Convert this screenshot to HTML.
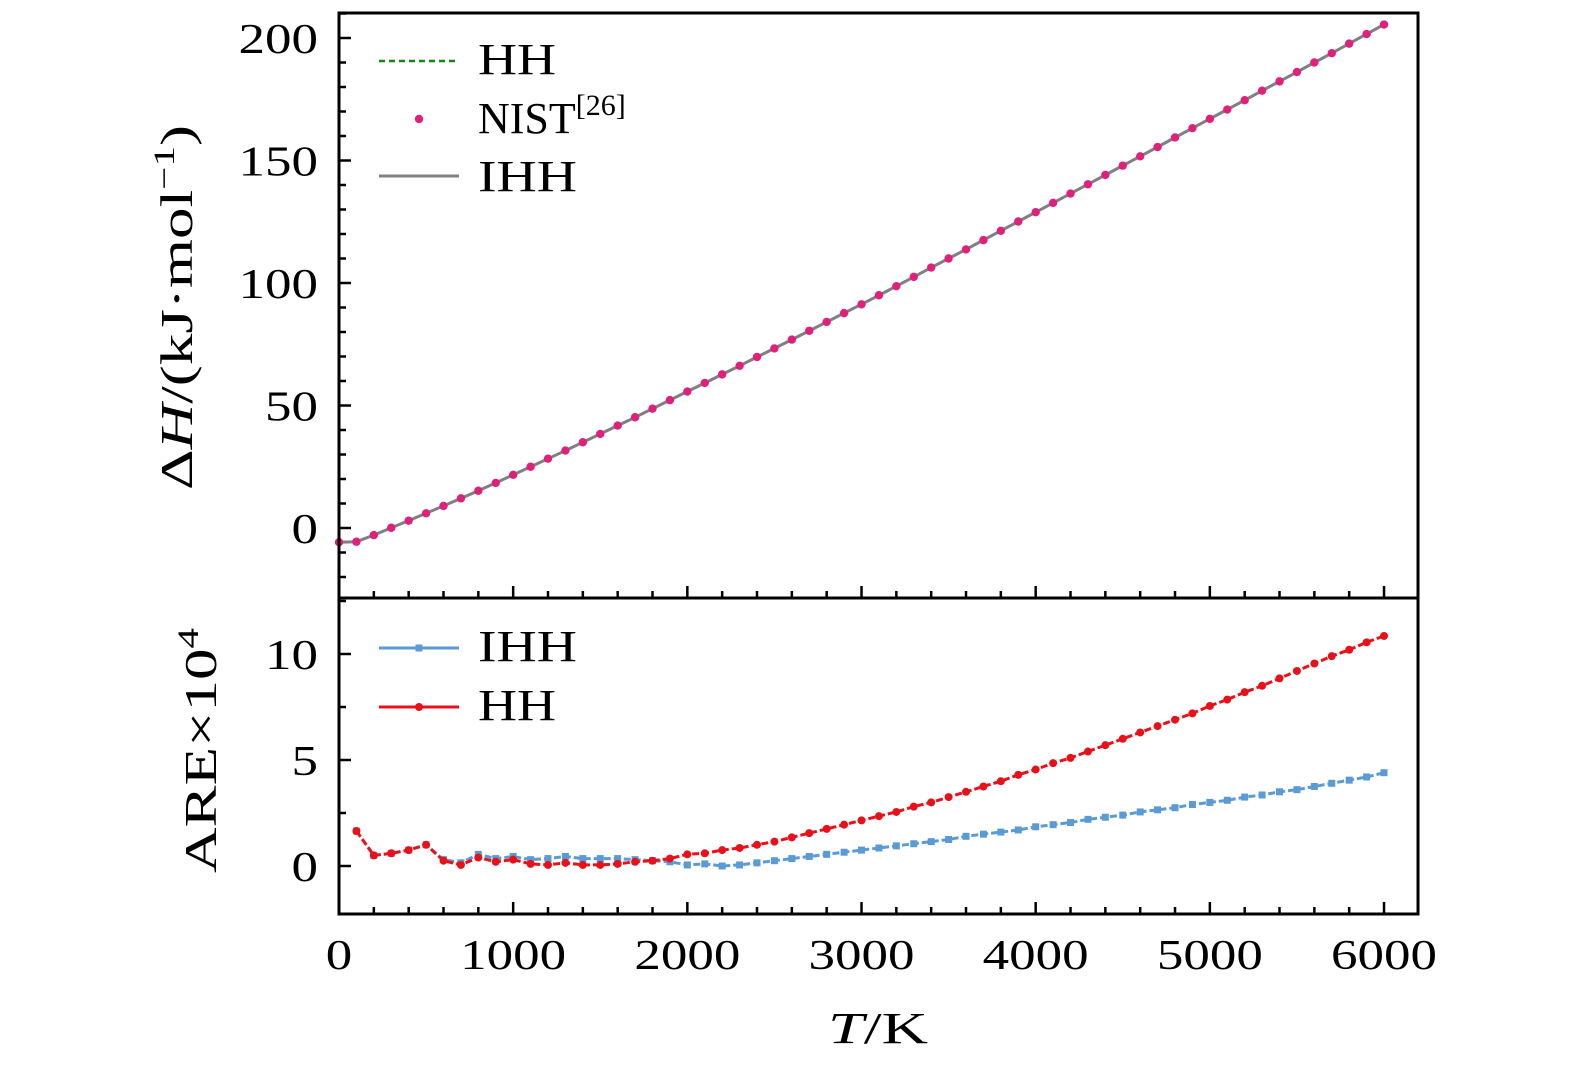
<!DOCTYPE html>
<html><head><meta charset="utf-8"><style>
html,body{margin:0;padding:0;background:#fff;}
svg{display:block;font-family:"Liberation Serif",serif;}
</style></head><body>
<svg id="chart" width="1575" height="1073" viewBox="0 0 1575 1073" xmlns="http://www.w3.org/2000/svg"></svg>
<script>
const temps = [];
for (let t = 0; t <= 6000; t += 100) temps.push(t);
const nistValues = [-5.8,-5.6,-2.9,0.1,3.0,6.0,9.0,12.1,15.2,18.4,21.7,25.0,28.3,31.6,35.0,38.4,41.8,45.2,48.7,52.2,55.7,59.2,62.7,66.2,69.8,73.3,76.9,80.5,84.1,87.7,91.3,95.0,98.7,102.5,106.3,110.0,113.7,117.5,121.3,125.1,128.9,132.7,136.5,140.3,144.1,147.9,151.7,155.5,159.4,163.2,167.0,170.8,174.6,178.5,182.3,186.1,190.0,193.8,197.7,201.6,205.5];
const areTemps = temps.slice(1);
const areHH = [1.65,0.5,0.6,0.75,1.0,0.25,0.05,0.4,0.2,0.3,0.1,0.05,0.15,0.05,0.05,0.1,0.2,0.25,0.35,0.55,0.6,0.75,0.85,1.0,1.15,1.35,1.55,1.75,1.95,2.15,2.35,2.55,2.8,3.0,3.25,3.5,3.75,4.0,4.3,4.55,4.85,5.1,5.4,5.7,6.0,6.3,6.6,6.9,7.2,7.55,7.85,8.2,8.5,8.85,9.2,9.55,9.9,10.2,10.55,10.85];
const areIHH = [1.65,0.5,0.6,0.75,1.0,0.3,0.15,0.55,0.35,0.45,0.3,0.35,0.45,0.35,0.35,0.35,0.3,0.25,0.2,0.05,0.1,0.0,0.05,0.15,0.25,0.35,0.45,0.55,0.65,0.75,0.85,0.95,1.05,1.15,1.25,1.4,1.5,1.6,1.7,1.85,1.95,2.05,2.2,2.3,2.4,2.55,2.65,2.75,2.9,3.0,3.1,3.25,3.35,3.5,3.6,3.75,3.9,4.05,4.2,4.4];
const xTicks = [0,1000,2000,3000,4000,5000,6000];
const topYTicks = [0,50,100,150,200];
const botYTicks = [0,5,10];

const svg = document.getElementById('chart');
const NS = 'http://www.w3.org/2000/svg';
function mk(tag, attrs, parent){const e=document.createElementNS(NS,tag);for(const k in attrs)e.setAttribute(k,attrs[k]);(parent||svg).appendChild(e);return e;}
const L=339,R=1418,T1=13,B1=598,B2=914;
const X = t => L + t*0.17417;
const Y1 = v => 528 - v*2.45;
const Y2 = v => 866 - v*21.2;

let p='';temps.forEach((t,i)=>{p+=(i?'L':'M')+X(t).toFixed(1)+' '+Y1(nistValues[i]).toFixed(1);});
let e=mk('path',{d:p,fill:'none',stroke:'#118811','stroke-width':2.5,'stroke-dasharray':'6 4'});

e=mk('path',{d:p,fill:'none',stroke:'#808080','stroke-width':3});

temps.forEach((t,i)=>{const c=mk('circle',{cx:X(t),cy:Y1(nistValues[i]),r:4.2,fill:'#e0207a'});
});
function series(vals,color,marker,name){
 let d='';areTemps.forEach((t,i)=>{d+=(i?'L':'M')+X(t).toFixed(1)+' '+Y2(vals[i]).toFixed(1);});
 const l=mk('path',{d:d,fill:'none',stroke:color,'stroke-width':3,'stroke-dasharray':'7 3'});
 
 areTemps.forEach((t,i)=>{let m;
  if(marker==='sq')m=mk('rect',{x:X(t)-3.5,y:Y2(vals[i])-3.5,width:7,height:7,fill:color});
  else m=mk('circle',{cx:X(t),cy:Y2(vals[i]),r:4,fill:color});
  });
}
series(areIHH,'#5b9bd5','sq','ihh-are');
series(areHH,'#e8111a','ci','hh-are');

e=mk('rect',{x:L,y:T1,width:R-L,height:B2-T1,fill:'none',stroke:'#000','stroke-width':3});

e=mk('line',{x1:L,x2:R,y1:B1,y2:B1,stroke:'#000','stroke-width':3});

for(let t=0;t<=6100;t+=200){const maj=t%1000===0,len=maj?12:7;
 for(const yb of [B1,B2]){mk('line',{x1:X(t),x2:X(t),y1:yb,y2:yb-len,stroke:'#000','stroke-width':2.5});}}
xTicks.forEach(t=>{const s=String(t);const tx=mk('text',{x:X(t),y:969,'font-size':42,'text-anchor':'middle',textLength:26.5*s.length,lengthAdjust:'spacingAndGlyphs'});tx.textContent=s;
 });
for(let v=-20;v<=210;v+=10){const maj=v%50===0,len=maj?12:7;const y=Y1(v);if(y<T1||y>B1)continue;
 mk('line',{x1:L,x2:L+len,y1:y,y2:y,stroke:'#000','stroke-width':2.5});}
topYTicks.forEach(v=>{const s=String(v);const tx=mk('text',{x:318,y:Y1(v)+15,'font-size':42,'text-anchor':'end',textLength:26.5*s.length,lengthAdjust:'spacingAndGlyphs'});tx.textContent=s;
 });
for(let v=-2.5;v<=12.5;v+=2.5){const maj=v%5===0,len=maj?12:7;const y=Y2(v);if(y<B1||y>B2)continue;
 mk('line',{x1:L,x2:L+len,y1:y,y2:y,stroke:'#000','stroke-width':2.5});}
botYTicks.forEach(v=>{const s=String(v);const tx=mk('text',{x:318,y:Y2(v)+15,'font-size':42,'text-anchor':'end',textLength:26.5*s.length,lengthAdjust:'spacingAndGlyphs'});tx.textContent=s;
 });
</script>
<svg style="position:absolute;left:0;top:0" width="1575" height="1073" font-family="Liberation Serif, serif">
 <text x="828" y="1043" font-size="44" textLength="100" lengthAdjust="spacingAndGlyphs"><tspan font-style="italic">T</tspan>/K</text>
 <text transform="translate(192,490) rotate(-90)" font-size="46" textLength="365" lengthAdjust="spacingAndGlyphs">Δ<tspan font-style="italic">H</tspan>/(kJ·mol<tspan dy="-18" font-size="30">−1</tspan><tspan dy="18">)</tspan></text>
 <text transform="translate(216,873) rotate(-90)" font-size="46" textLength="245" lengthAdjust="spacingAndGlyphs">ARE×10<tspan dy="-18" font-size="30">4</tspan></text>
 <g>
  <line x1="379" x2="459" y1="61" y2="61" stroke="#118811" stroke-width="2.5" stroke-dasharray="6 4"/>
  <text x="478" y="74" font-size="44" textLength="78" lengthAdjust="spacingAndGlyphs">HH</text>
  <circle cx="419" cy="119" r="4.2" fill="#e0207a"/>
  <text x="478" y="133" font-size="44">NIST<tspan dy="-18" font-size="30">[26]</tspan></text>
  <line x1="379" x2="459" y1="176" y2="176" stroke="#808080" stroke-width="3"/>
  <text x="478" y="191" font-size="44" textLength="99" lengthAdjust="spacingAndGlyphs">IHH</text>
 </g>
 <g>
  <line x1="379" x2="459" y1="648" y2="648" stroke="#5b9bd5" stroke-width="3"/>
  <rect x="415.5" y="644.5" width="7" height="7" fill="#5b9bd5"/>
  <text x="478" y="661" font-size="44" textLength="99" lengthAdjust="spacingAndGlyphs">IHH</text>
  <line x1="379" x2="459" y1="707" y2="707" stroke="#e8111a" stroke-width="3"/>
  <circle cx="419" cy="707" r="4" fill="#e8111a"/>
  <text x="478" y="720" font-size="44" textLength="78" lengthAdjust="spacingAndGlyphs">HH</text>
 </g>
</svg>
</body></html>
